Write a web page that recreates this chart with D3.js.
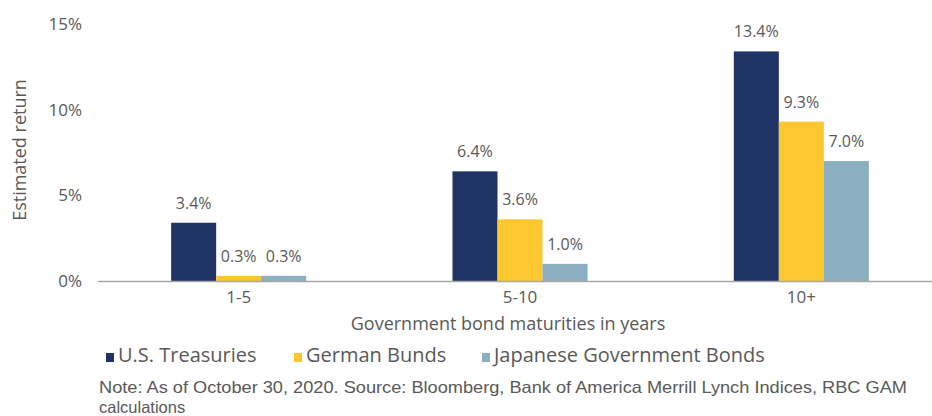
<!DOCTYPE html>
<html>
<head>
<meta charset="utf-8">
<script src="https://cdn.jsdelivr.net/npm/d3@7"></script>
<style>
  body { margin: 0; background: #fff; }
  text { font-family: "Open Sans", "Noto Sans", sans-serif; fill: #595959; }
</style>
</head>
<body>
<script>
let width = 932,
  height = 416;

// data
let categories = ["1-5", "5-10", "10+"];
let seriesNames = ["U.S. Treasuries", "German Bunds", "Japanese Government Bonds"];
let usTreasuries = [3.4, 6.4, 13.4];
let germanBunds = [0.3, 3.6, 9.3];
let japaneseBonds = [0.3, 1.0, 7.0];
let yTicks = [0, 5, 10, 15];
let noteLines = [
  "Note: As of October 30, 2020. Source: Bloomberg, Bank of America Merrill Lynch Indices, RBC GAM",
  "calculations"
];

let colors = ["#1f3464", "#fdc82f", "#8aafc0"];
let allSeries = [usTreasuries, germanBunds, japaneseBonds];

let svg = d3.select("body").append("svg")
  .attr("width", width)
  .attr("height", height);

let x = d3.scaleBand()
  .domain(categories)
  .range([98, 942]);

let xInner = d3.scaleBand()
  .domain(seriesNames)
  .range([0, x.bandwidth()])
  .paddingInner(0)
  .paddingOuter(1.625);

let y = d3.scaleLinear()
  .domain([0, 15])
  .range([281, 24]);

// y axis labels (no line)
let yAxis = svg.append("g")
  .attr("transform", "translate(82,0)")
  .call(d3.axisLeft(y).tickValues(yTicks).tickFormat(d => d + "%").tickSize(0).tickPadding(0));
yAxis.select(".domain").remove();
yAxis.selectAll("text")
  .style("font-size", "17px")
  .style("fill", "#595959")
  .style("font-family", "'Open Sans', sans-serif");

// y title
svg.append("text")
  .attr("transform", "translate(26,150) rotate(-90)")
  .attr("text-anchor", "middle")
  .style("font-size", "18px")
  .text("Estimated return");

// bars
let groups = svg.selectAll(".grp")
  .data(categories)
  .enter().append("g")
  .attr("class", "grp")
  .attr("transform", d => "translate(" + x(d) + ",0)");

groups.each(function(cat, ci) {
  let g = d3.select(this);
  seriesNames.forEach(function(name, si) {
    let v = allSeries[si][ci];
    g.append("rect")
      .attr("x", xInner(name))
      .attr("y", y(v))
      .attr("width", xInner.bandwidth())
      .attr("height", y(0) - y(v))
      .style("fill", colors[si]);
    g.append("text")
      .attr("x", xInner(name) + xInner.bandwidth() / 2)
      .attr("y", y(v) - 14)
      .attr("text-anchor", "middle")
      .style("font-size", "16px")
      .text(v.toFixed(1) + "%");
  });
});

// x axis
let xAxis = svg.append("g")
  .attr("transform", "translate(0,281)")
  .call(d3.axisBottom(x).tickSize(0).tickPadding(10));
xAxis.select(".domain")
  .attr("d", "M98,0.5H932")
  .style("stroke", "#a6a6a6")
  .style("stroke-width", 1.5);
xAxis.selectAll("text")
  .style("font-size", "17px")
  .style("fill", "#595959")
  .style("font-family", "'Open Sans', sans-serif")
  .attr("dy", "0.71em");

svg.append("text")
  .attr("x", 508)
  .attr("y", 330)
  .attr("text-anchor", "middle")
  .style("font-size", "18px")
  .text("Government bond maturities in years");

// legend
let legendX = [106, 294, 482];
let legend = svg.selectAll(".legend")
  .data(seriesNames)
  .enter().append("g")
  .attr("class", "legend")
  .attr("transform", (d, i) => "translate(" + legendX[i] + ",362)");
legend.append("rect")
  .attr("x", 0)
  .attr("y", -9)
  .attr("width", 8)
  .attr("height", 9)
  .style("fill", (d, i) => colors[i]);
legend.append("text")
  .attr("x", 12)
  .attr("y", 0)
  .style("font-size", "20px")
  .text(d => d);

// note (tighter font so the two lines don't collide)
svg.selectAll(".note")
  .data(noteLines)
  .enter().append("text")
  .attr("class", "note")
  .attr("x", 99)
  .attr("y", (d, i) => 393 + i * 20)
  .style("font-family", "'Liberation Sans', Arial, sans-serif")
  .style("font-size", "16.5px")
  .attr("textLength", (d, i) => i === 0 ? 808 : null)
  .attr("lengthAdjust", "spacingAndGlyphs")
  .text(d => d);
</script>
</body>
</html>
